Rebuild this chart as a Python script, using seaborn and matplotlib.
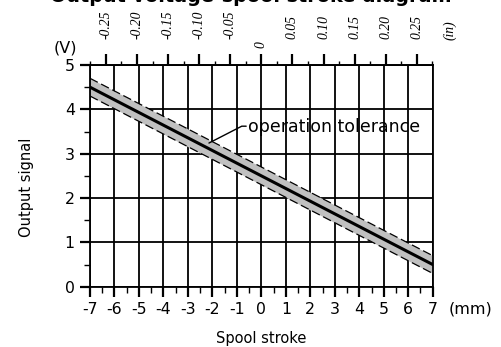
import numpy as np
import pandas as pd
import matplotlib
matplotlib.use("Agg")
import matplotlib.pyplot as plt
import seaborn as sns

# Spool stroke (mm) and nominal output signal (V)
stroke_mm = [-7, 7]
signal_v = [4.5, 0.5]
tolerance_v = 0.2

x_ticks_mm = list(range(-7, 8))
y_ticks_v = [0, 1, 2, 3, 4, 5]
in_ticks = [-0.25, -0.20, -0.15, -0.10, -0.05, 0, 0.05, 0.10, 0.15, 0.20, 0.25]
in_labels = ["-0.25", "-0.20", "-0.15", "-0.10", "-0.05", "0",
             "0.05", "0.10", "0.15", "0.20", "0.25"]

sns.set_theme(style="white")
plt.rcParams["font.family"] = ["DejaVu Sans"]
plt.rcParams.update({"text.color": "black", "axes.labelcolor": "black",
                     "xtick.color": "black", "ytick.color": "black"})

df = pd.DataFrame({"stroke": stroke_mm, "signal": signal_v})
df["upper"] = df["signal"] + tolerance_v
df["lower"] = df["signal"] - tolerance_v

W, H = 502, 347
fig = plt.figure(figsize=(W / 100, H / 100), dpi=100)
ax = fig.add_axes([90 / W, 1 - 286.7 / H, (432.7 - 90) / W, (286.7 - 65) / H])

# tolerance band
ax.fill_between(df["stroke"], df["lower"], df["upper"], color="#c0c0c0", lw=0, zorder=2)
sns.lineplot(data=df, x="stroke", y="upper", ax=ax, color="black", lw=0.9,
             linestyle=(0, (7, 3)), zorder=3)
sns.lineplot(data=df, x="stroke", y="lower", ax=ax, color="black", lw=0.9,
             linestyle=(0, (7, 3)), zorder=3)
sns.lineplot(data=df, x="stroke", y="signal", ax=ax, color="black", lw=2.2, zorder=4)

ax.set_xlim(-7, 7)
ax.set_ylim(0, 5)
ax.set_xticks(x_ticks_mm)
ax.set_xticks(np.arange(-6.5, 7, 1.0), minor=True)
ax.set_yticks(y_ticks_v)
ax.set_yticks(np.arange(0.5, 5, 1.0), minor=True)
ax.set_xticklabels([str(v) for v in x_ticks_mm], fontsize=11.3)
ax.set_yticklabels([str(v) for v in y_ticks_v], fontsize=11.3)
ax.grid(True, which="major", color="black", lw=1.3, zorder=1)
ax.set_axisbelow(True)
ax.tick_params(axis="both", which="major", direction="out", length=7, width=1.6,
               color="black", bottom=True, left=True, top=False, right=False, pad=4)
ax.tick_params(axis="both", which="minor", direction="out", length=4, width=1.0,
               color="black", bottom=True, left=True, top=False, right=False)
for s in ax.spines.values():
    s.set_color("black")
    s.set_linewidth(1.3)
ax.set_xlabel("")
ax.set_ylabel("")

# inch scale on top; the "0" label sits a little lower than the others
serif_it = dict(family="Liberation Serif", style="italic", fontsize=9.8)
sec = ax.secondary_xaxis("top", functions=(lambda x: x / 25.4, lambda x: x * 25.4))
sec.set_xticks(in_ticks)
sec.set_xticks(np.arange(-0.275, 0.28, 0.05), minor=True)
sec.set_xticklabels(["" if t == 0 else lab for t, lab in zip(in_ticks, in_labels)],
                    rotation=90, **serif_it)
sec.tick_params(axis="x", which="major", direction="out", length=8, width=1.6,
                color="black", pad=11)
sec.tick_params(axis="x", which="minor", direction="out", length=3, width=1.0,
                color="black")
sec.spines["top"].set_linewidth(1.3)
for t, lab in zip(in_ticks, in_labels):
    if t == 0:
        ax.annotate(lab, xy=(t * 25.4, 1), xycoords=("data", "axes fraction"),
                    xytext=(0, 12.2), textcoords="offset points", rotation=90,
                    ha="center", va="bottom", annotation_clip=False, **serif_it)

# axis titles and units
fig.text(27 / W, 1 - 187 / H, "Output signal", fontsize=10.5, rotation=90,
         ha="center", va="center")
fig.text(261 / W, 1 - 338 / H, "Spool stroke", fontsize=10.5, ha="center", va="center")
fig.text(65 / W, 1 - 48 / H, "(V)", fontsize=11.5, ha="center", va="center")
fig.text(471 / W, 1 - 309 / H, "(mm)", fontsize=11.5, ha="center", va="center")
fig.text(450 / W, 1 - 30 / H, "(in)", ha="center", va="center", rotation=90, **serif_it)

# annotation of the tolerance band
ax.plot([-2.14, -0.8, -0.62], [3.24, 3.62, 3.62], color="black", lw=1.0, zorder=5)
ax.text(-0.53, 3.6, "operation tolerance", fontsize=12.5, ha="left", va="center", zorder=6)

fig.text(251 / W, 1 - 1.5 / H, "Output voltage-spool stroke diagram", fontsize=13.8,
         fontweight="bold", ha="center", va="baseline")

fig.savefig("out.png", dpi=100)
